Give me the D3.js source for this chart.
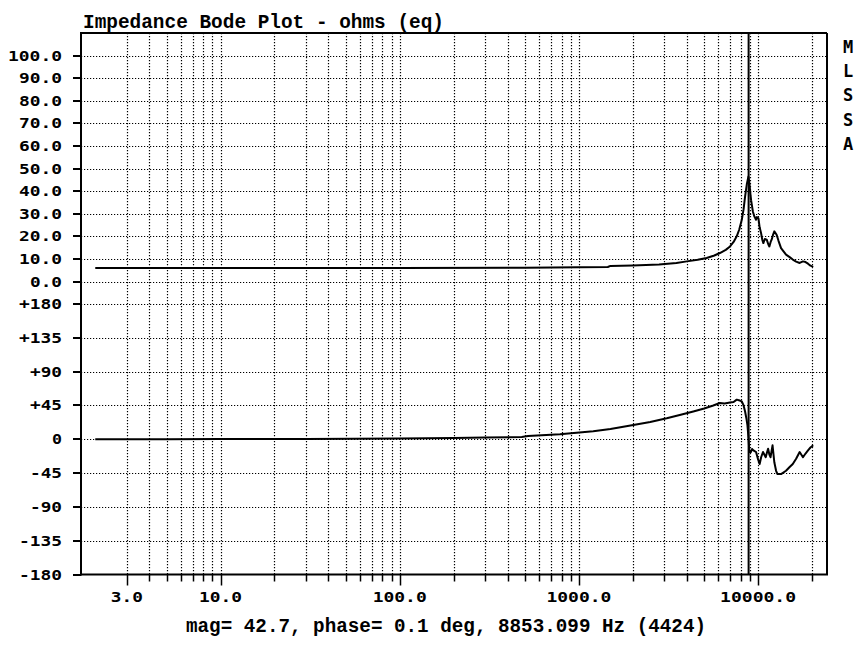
<!DOCTYPE html>
<html>
<head>
<meta charset="utf-8">
<script src="https://cdn.jsdelivr.net/npm/d3@7"></script>
<style>
  html, body { margin: 0; padding: 0; background: #fff; }
  svg { display: block; }
</style>
</head>
<body>
<script>
// ---------- data ----------
const title = "Impedance Bode Plot - ohms (eq)";
const footer = "mag= 42.7, phase= 0.1 deg, 8853.099 Hz (4424)";
const sideLetters = ["M", "L", "S", "S", "A"];
const cursorFreq = 8853.099;

const magTicks = [0, 10, 20, 30, 40, 50, 60, 70, 80, 90, 100];
const phaseTicks = [-180, -135, -90, -45, 0, 45, 90, 135, 180];
const phaseTickLabels = ["-180", "-135", "-90", "-45", "0", "+45", "+90", "+135", "+180"];
const xMajorTicks = [3, 10, 100, 1000, 10000];
const xMajorLabels = ["3.0", "10.0", "100.0", "1000.0", "10000.0"];
const xAllTicks = [3, 4, 5, 6, 7, 8, 9,
  10, 20, 30, 40, 50, 60, 70, 80, 90,
  100, 200, 300, 400, 500, 600, 700, 800, 900,
  1000, 2000, 3000, 4000, 5000, 6000, 7000, 8000, 9000,
  10000, 20000];

const magFreq = [2, 100, 500, 1000, 1450, 1500, 2000, 2800, 3500, 4000, 4600, 5160, 5700, 6120, 6600, 6970,
  7300, 7600, 7850, 8110, 8300, 8460, 8650, 8830, 8940, 9050, 9140, 9350, 9530, 9740, 9850, 10040,
  10200, 10390, 10550, 10700, 10900, 11170, 11400, 11560, 11750, 11900, 12100, 12320, 12690, 13000,
  13430, 14320, 15000, 15620, 16300, 17060, 17800, 18400, 18990, 19600, 20300];
const magVal = [6.0, 6.0, 6.1, 6.3, 6.4, 6.9, 7.1, 7.5, 8.2, 8.9, 9.6, 10.4, 11.5, 12.6, 14.0, 15.5,
  17.5, 20, 23, 27.3, 32, 37.6, 43, 46.4, 43.5, 39, 36, 31, 28.8, 27.3, 28.5, 28,
  24, 21.4, 18.5, 17, 18.8, 18.5, 16.5, 15.5, 17.5, 18.5, 20.5, 22.2, 20.7, 18,
  14.8, 11.9, 10.8, 9.7, 8.8, 8.2, 8.9, 8.6, 7.9, 7.0, 6.5];

const phaseFreq = [2, 5, 10, 30, 100, 200, 300, 480, 520, 784, 1202, 1500, 2013, 2500, 3092, 3700, 4350,
  5000, 5620, 6120, 6500, 6970, 7300, 7600, 7900, 8110, 8300, 8460, 8600, 8720, 8853, 8940, 9110,
  9250, 9420, 9600, 9740, 10000, 10200, 10400, 10650, 11030, 11200, 11370, 11550, 11730, 12040,
  12320, 12600, 12830, 13430, 14320, 15000, 15620, 16300, 17060, 17800, 18400, 18990, 19600, 20300];
const phaseVal = [0, 0.1, 0.2, 0.4, 1.0, 1.8, 2.4, 3.0, 4.2, 6.75, 10.8, 13.5, 18.9, 23, 27.9, 32.5, 36.9,
  41, 45, 48.2, 47.5, 48.8, 49.5, 52.7, 51.5, 50.4, 45, 36.9, 28, 18.9, 0.1, -17, -17,
  -13, -14.8, -16, -17, -27, -32.9, -24, -17, -23.9, -18, -12.6, -20, -23.9, -8.1,
  -30.6, -42, -46.4, -46.4, -41.9, -37, -32.9, -26, -17, -23.9, -19, -14.8, -11, -8.1];

// ---------- layout ----------
const W = 858, H = 645;
const L = 81, R = 827, T = 33, B = 574.5;

const svg = d3.select("body").append("svg").attr("width", W).attr("height", H);

const x = d3.scaleLog().domain([1.665, 24240]).range([L, R]);
const yMag = d3.scaleLinear().domain([0, 100]).range([281.5, 55.5]);
const yPh = d3.scaleLinear().domain([-180, 180]).range([B, 304]);

const labelFont = "'DejaVu Sans Mono', monospace";
const textFont = "'Liberation Mono', 'Courier New', monospace";
const CH = 11; // label char advance

// ---------- grid ----------
const grid = svg.append("g").attr("stroke", "#000").attr("stroke-width", 1.2)
  .attr("stroke-dasharray", "1.2,1.8");
xAllTicks.forEach(f => {
  const px = Math.round(x(f)) + 0.5;
  grid.append("line").attr("x1", px).attr("x2", px).attr("y1", T).attr("y2", B);
});
magTicks.forEach(v => {
  const py = Math.round(yMag(v)) + 0.5;
  grid.append("line").attr("x1", L).attr("x2", R).attr("y1", py).attr("y2", py);
});
phaseTicks.filter(v => v > -180).forEach(v => {
  const py = Math.round(yPh(v)) + 0.5;
  grid.append("line").attr("x1", L).attr("x2", R).attr("y1", py).attr("y2", py);
});

// ---------- frame ----------
const frame = svg.append("g").attr("stroke", "#000").attr("stroke-width", 2).attr("fill", "none");
frame.append("line").attr("x1", L).attr("x2", R).attr("y1", T).attr("y2", T);
frame.append("line").attr("x1", R).attr("x2", R).attr("y1", T).attr("y2", B);
frame.append("line").attr("x1", L).attr("x2", L).attr("y1", T - 1).attr("y2", B + 1);
frame.append("line").attr("x1", L).attr("x2", R + 1).attr("y1", B).attr("y2", B);

// y ticks + labels
const yLabels = svg.append("g");
function yLabel(py, txt) {
  frame.append("line").attr("x1", 73).attr("x2", L).attr("y1", py).attr("y2", py);
  yLabels.append("text")
    .attr("x", 63 - txt.length * CH).attr("y", py + 5)
    .attr("textLength", txt.length * CH - 1).attr("lengthAdjust", "spacingAndGlyphs")
    .attr("font-family", labelFont).attr("font-weight", "bold").attr("font-size", 14)
    .attr("fill", "#000").text(txt);
}
magTicks.forEach(v => yLabel(Math.round(yMag(v)), v.toFixed(1)));
phaseTicks.forEach((v, i) => yLabel(Math.round(yPh(v)), phaseTickLabels[i]));

// x ticks + labels
xAllTicks.forEach(f => {
  const major = xMajorTicks.includes(f);
  const px = Math.round(x(f)) + 0.5;
  frame.append("line").attr("x1", px).attr("x2", px).attr("y1", B)
    .attr("y2", B + (major ? 11 : 7)).attr("stroke-width", 1.5);
});
xMajorTicks.forEach((f, i) => {
  const txt = xMajorLabels[i];
  const wdt = txt.length * CH - 1;
  svg.append("text")
    .attr("x", x(f) - wdt / 2).attr("y", 601.5)
    .attr("textLength", wdt).attr("lengthAdjust", "spacingAndGlyphs")
    .attr("font-family", labelFont).attr("font-weight", "bold").attr("font-size", 14)
    .attr("fill", "#000").text(txt);
});

// ---------- curves ----------
const magData = magFreq.map((f, i) => [f, magVal[i]]);
const phData = phaseFreq.map((f, i) => [f, phaseVal[i]]);
svg.append("path").datum(magData)
  .attr("d", d3.line().x(d => x(d[0])).y(d => yMag(d[1])))
  .attr("fill", "none").attr("stroke", "#000").attr("stroke-width", 2).attr("stroke-linejoin", "round");
svg.append("path").datum(phData)
  .attr("d", d3.line().x(d => x(d[0])).y(d => yPh(d[1])))
  .attr("fill", "none").attr("stroke", "#000").attr("stroke-width", 2).attr("stroke-linejoin", "round");

// cursor
svg.append("line").attr("x1", x(cursorFreq)).attr("x2", x(cursorFreq))
  .attr("y1", T).attr("y2", B).attr("stroke", "#000").attr("stroke-width", 2);

// ---------- texts ----------
svg.append("text").attr("x", 83).attr("y", 28)
  .attr("textLength", 361).attr("lengthAdjust", "spacingAndGlyphs")
  .attr("font-family", textFont).attr("font-weight", "bold").attr("font-size", 21)
  .attr("fill", "#000").text(title);

svg.append("text").attr("x", 186).attr("y", 632)
  .attr("textLength", 520).attr("lengthAdjust", "spacingAndGlyphs")
  .attr("font-family", textFont).attr("font-weight", "bold").attr("font-size", 20)
  .attr("fill", "#000").text(footer);

sideLetters.forEach((c, i) => {
  svg.append("text").attr("x", 848).attr("y", 53 + i * 24.2)
    .attr("text-anchor", "middle")
    .attr("font-family", labelFont).attr("font-weight", "bold").attr("font-size", 17)
    .attr("fill", "#000").text(c);
});
</script>
</body>
</html>
